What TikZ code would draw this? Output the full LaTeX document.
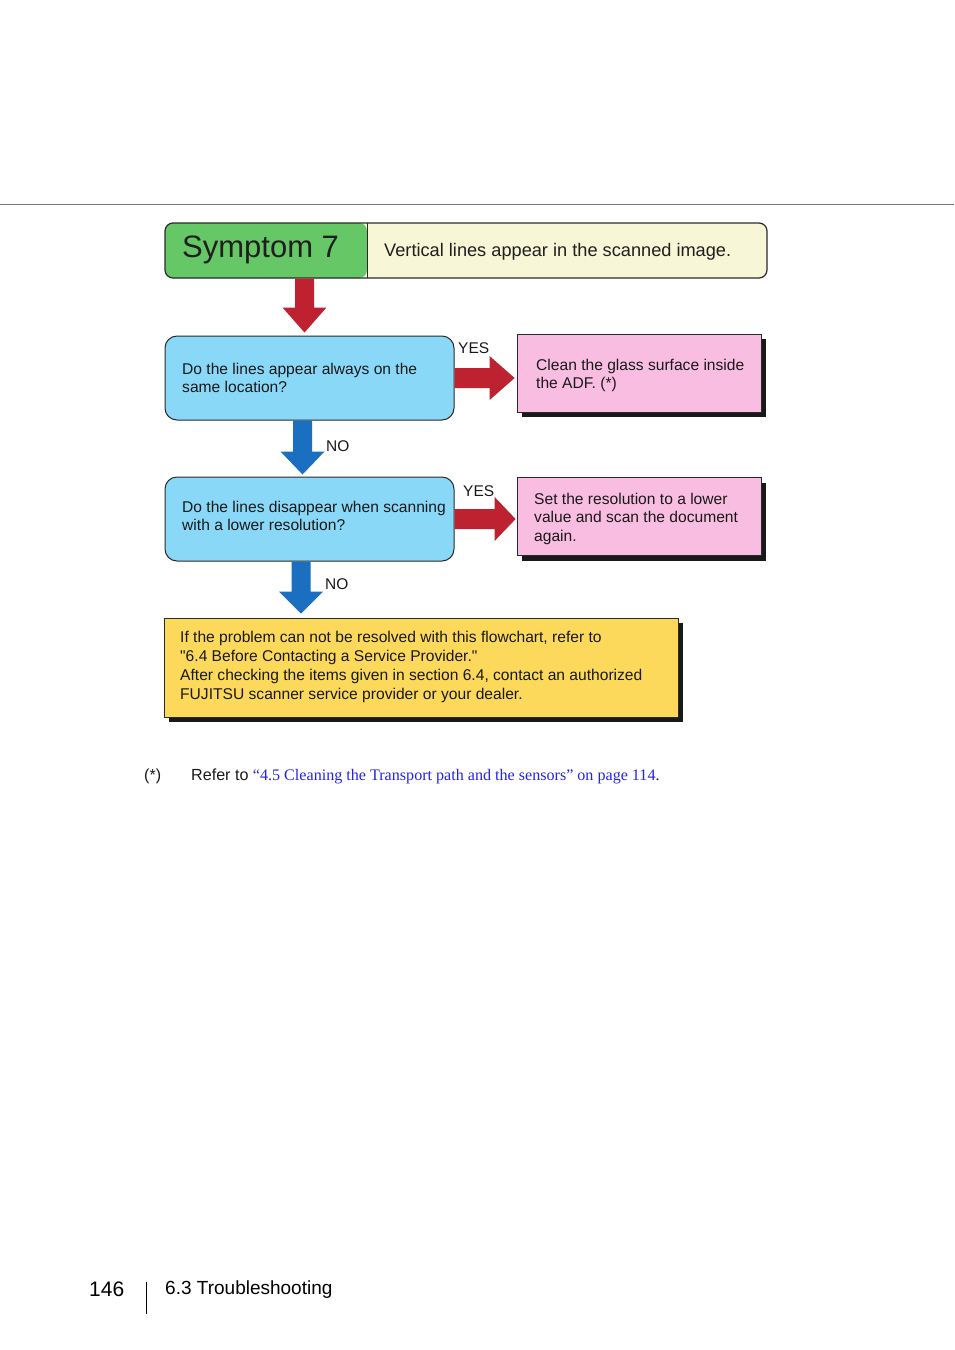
\documentclass[tikz,border=0pt]{standalone}
\usepackage{fontspec}
\setmainfont{Liberation Sans}[Ligatures=TeXOff]
\newfontfamily\seriffont{Liberation Serif}
\usetikzlibrary{calc,shadows}
\definecolor{symgreen}{HTML}{66C766}
\definecolor{symcream}{HTML}{F7F6D6}
\definecolor{qblue}{HTML}{8AD8F7}
\definecolor{apink}{HTML}{F9BDE2}
\definecolor{fyellow}{HTML}{FCD95A}
\definecolor{arrred}{HTML}{BE2230}
\definecolor{arrblue}{HTML}{1A6FC0}
\definecolor{linkblue}{HTML}{2424E6}
\definecolor{edge}{HTML}{2A2A2A}
\tikzset{
  boxtext/.style={font=\fontsize{15.6}{18}\selectfont, align=left, anchor=west, inner sep=0pt, text=black!90},
  qbox/.style={draw=edge, line width=1pt, fill=qblue, rounded corners=12pt, minimum width=289pt, minimum height=84pt, inner sep=0pt},
  abox/.style={draw=edge, line width=0.8pt, fill=apink, minimum width=244pt, minimum height=78pt, inner sep=0pt,
     drop shadow={shadow xshift=5pt, shadow yshift=-5pt, opacity=1, fill=black!90}},
  fbox/.style={draw=edge, line width=0.8pt, fill=fyellow, minimum width=514pt, minimum height=99pt, inner sep=0pt,
     drop shadow={shadow xshift=5pt, shadow yshift=-5pt, opacity=1, fill=black!90}},
  lbl/.style={font=\fontsize{15.5}{18}\selectfont, anchor=west, inner sep=0pt, text=black!90},
  downarr/.style={to path={let \p1=(\tikztostart),\p2=(\tikztotarget) in
     (\x2-9.5pt,\y1) -- (\x2-9.5pt,\y2+#1) -- (\x2-22pt,\y2+#1) -- (\x2,\y2) -- (\x2+22pt,\y2+#1) -- (\x2+9.5pt,\y2+#1) -- (\x2+9.5pt,\y1) -- cycle}},
  rightarr/.style={to path={let \p1=(\tikztostart),\p2=(\tikztotarget) in
     (\x1,\y2+10pt) -- (\x2-#1,\y2+10pt) -- (\x2-#1,\y2+22pt) -- (\x2,\y2) -- (\x2-#1,\y2-22pt) -- (\x2-#1,\y2-10pt) -- (\x1,\y2-10pt) -- cycle}},
}
\begin{document}
\begin{tikzpicture}[x=1pt,y=1pt]
\useasboundingbox[fill=white] (0,0) rectangle (954,-1350);
% top rule
\coordinate (rl) at (0,-204);
\coordinate (rr) at (954,-204);
\draw[line width=0.8pt, black!55] (rl) -- (rr);

% header
\node[draw=edge, line width=1.2pt, fill=symcream, rounded corners=8pt, minimum width=602pt, minimum height=55pt, inner sep=0pt,
  path picture={\fill[symgreen] (path picture bounding box.south west) rectangle ([xshift=202pt]path picture bounding box.north west);
                \draw[edge, line width=1pt] ([xshift=202pt]path picture bounding box.south west) -- ([xshift=202pt]path picture bounding box.north west);}]
  (hdr) at (466,-250.5) {};
\node[anchor=west, inner sep=0pt, font=\fontsize{31}{36}\selectfont, text=black!88] (symt) at (182,-250) {Symptom 7};
\node[anchor=west, inner sep=0pt, font=\fontsize{18.2}{21}\selectfont, text=black!88] (symd) at (384,-251.5) {Vertical lines appear in the scanned image.};

% question 1
\node[qbox] (q1) at (309.5,-378) {};
\node[boxtext] (q1t) at (182,-377.5) {Do the lines appear always on the\\same location?};
% answer 1
\node[abox] (p1) at (639,-373) {};
\node[boxtext] (p1t) at (536,-375.5) {Clean the glass surface inside\\the ADF. (*)};
% question 2
\node[qbox] (q2) at (309.5,-519) {};
\node[boxtext] (q2t) at (182,-516) {Do the lines disappear when scanning\\with a lower resolution?};
% answer 2
\node[abox] (p2) at (639,-516.5) {};
\node[boxtext, font=\fontsize{15.6}{18.5}\selectfont] (p2t) at (534,-518.5) {Set the resolution to a lower\\value and scan the document\\again.};
% final
\node[fbox] (fin) at (421,-667.5) {};
\node[boxtext, font=\fontsize{15.6}{19}\selectfont] (fint) at (180,-667) {If the problem can not be resolved with this flowchart, refer to\\"6.4 Before Contacting a Service Provider."\\After checking the items given in section 6.4, contact an authorized\\FUJITSU scanner service provider or your dealer.};

% arrows
\path[fill=arrred, downarr=25pt] (hdr.south) to ([xshift=-5pt,yshift=3pt]q1.north);
\path[fill=arrblue, downarr=23pt] (q1.south) to ([xshift=-7pt,yshift=2pt]q2.north);
\path[fill=arrblue, downarr=22pt] (q2.south) to ($(q2.south |- fin.north)+(-8.5pt,4pt)$);
\path[fill=arrred, rightarr=25pt] (q1.east) to ($(q1.east -| p1.west)+(-2pt,0)$);
\path[fill=arrred, rightarr=21pt] (q2.east) to ($(q2.east -| p2.west)+(-1pt,0)$);

% labels
\node[lbl] (yes1) at (458,-348) {YES};
\node[lbl] (no1) at (326,-446) {NO};
\node[lbl] (yes2) at (463,-491) {YES};
\node[lbl] (no2) at (325,-584) {NO};

% footnote
\node[lbl, font=\fontsize{16}{18}\selectfont] (fnm) at (144,-776) {(*)};
\node[lbl, font=\fontsize{16.1}{18}\selectfont] (fnt) at (191,-776) {Refer to {\seriffont\color{linkblue}“4.5 Cleaning the Transport path and the sensors” on page 114}{\seriffont .}};

% footer
\node[anchor=west, inner sep=0pt, font=\fontsize{21}{24}\selectfont] (pg) at (89,-1289) {146};
\coordinate (vt) at (146,-1282);
\coordinate (vb) at (146,-1314);
\draw[line width=0.9pt] (vt) -- (vb);
\node[anchor=west, inner sep=0pt, font=\fontsize{19}{22}\selectfont] (sec) at (165,-1290) {6.3 Troubleshooting};
\end{tikzpicture}
\end{document}
